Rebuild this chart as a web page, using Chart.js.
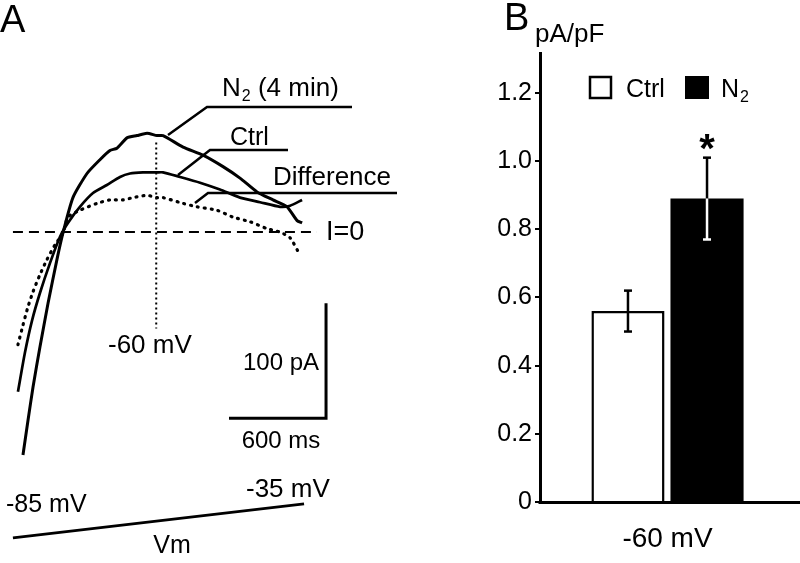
<!DOCTYPE html>
<html lang="en">
<head>
<meta charset="UTF-8">
<title>Ramp currents and current density</title>
<script src="https://cdn.jsdelivr.net/npm/chart.js@4.4.1/dist/chart.umd.min.js"></script>
<style>
  body { margin: 0; background: #fff; }
  #wrap { position: relative; width: 800px; height: 563px; }
  #wrap canvas { position: absolute; top: 0; }
  #panelA { left: 0; }
  #panelB { left: 480px; }
</style>
</head>
<body>
<div id="wrap">
  <canvas id="panelA" width="480" height="563"></canvas>
  <canvas id="panelB" width="320" height="563"></canvas>
</div>
<script>
// ---- panel A: ramp currents, time (ms) / current (pA) ----
const n2Time    = [62, 93, 124, 167, 217, 272, 309, 371, 458, 538, 600, 643, 705, 767, 829, 891, 928, 1052, 1175, 1299, 1404, 1509, 1608, 1695, 1757, 1788];
const n2Current = [-194, -164, -135, -100, -62, -24, -1, 30, 51, 63, 71, 73, 82, 84, 86, 84, 84, 74, 67, 57, 47, 35, 28, 22, 10, 8];

const ctrlTime    = [31, 74, 118, 167, 229, 291, 340, 414, 495, 581, 662, 724, 804, 891, 928, 1033, 1157, 1280, 1404, 1528, 1652, 1714, 1788];
const ctrlCurrent = [-139, -105, -77, -53, -27, -4, 8, 22, 34, 41, 48, 51, 52, 52, 52, 48, 43, 37, 30, 26, 22, 23, 28];

const diffTime    = [31, 62, 93, 124, 167, 210, 260, 309, 340, 414, 520, 600, 680, 742, 829, 891, 928, 1052, 1138, 1262, 1361, 1466, 1571, 1652, 1714, 1775];
const diffCurrent = [-98, -81, -65, -52, -37, -24, -11, -1, 13, 19, 25, 28, 28, 30, 32, 30, 30, 25, 22, 19, 13, 9, 3, 0, -5, -20];

// voltage ramp protocol (ms / mV)
const rampTime = [0, 1800];
const rampVm   = [-85, -35];

// ---- panel B: current density at -60 mV ----
const categories = ['-60 mV'];
const groups     = ['Ctrl', 'N₂'];
const meanValues = [0.56, 0.89];
const semValues  = [0.06, 0.12];
const yTicks     = [0, 0.2, 0.4, 0.6, 0.8, 1.0, 1.2];

const FONT = '"Liberation Sans", Arial, sans-serif';

function pairs(xs, ys) {
  return xs.map((v, i) => ({ x: v, y: ys[i] }));
}

function line(ctx, pts) {
  ctx.beginPath();
  ctx.moveTo(pts[0][0], pts[0][1]);
  for (let i = 1; i < pts.length; i++) ctx.lineTo(pts[i][0], pts[i][1]);
  ctx.stroke();
}

function text(ctx, str, x, y, size, align) {
  ctx.font = size + 'px ' + FONT;
  ctx.textAlign = align || 'left';
  ctx.textBaseline = 'alphabetic';
  ctx.fillText(str, x, y);
}

// "N" + subscript "2" + rest
function subText(ctx, x, y, size, rest) {
  ctx.font = size + 'px ' + FONT;
  ctx.textAlign = 'left';
  ctx.textBaseline = 'alphabetic';
  ctx.fillText('N', x, y);
  x += ctx.measureText('N').width + 1;
  ctx.font = Math.round(size * 0.62) + 'px ' + FONT;
  ctx.fillText('2', x, y + 5);
  x += ctx.measureText('2').width;
  if (rest) {
    ctx.font = size + 'px ' + FONT;
    ctx.fillText(rest, x, y);
  }
}

// annotations of panel A
const annotA = {
  id: 'annotA',
  afterDatasetsDraw(chart) {
    const ctx = chart.ctx;
    const sx = chart.scales.x, sy = chart.scales.y;
    ctx.save();
    ctx.strokeStyle = '#000';
    ctx.fillStyle = '#000';

    // I = 0 line
    ctx.lineWidth = 2;
    ctx.setLineDash([10, 6]);
    line(ctx, [[sx.getPixelForValue(0), sy.getPixelForValue(0)], [sx.getPixelForValue(1880), sy.getPixelForValue(0)]]);

    // -60 mV marker
    ctx.setLineDash([2, 3]);
    const tm = sx.getPixelForValue(886);
    line(ctx, [[tm, sy.getPixelForValue(78)], [tm, sy.getPixelForValue(-84)]]);
    ctx.setLineDash([]);

    // scale bars: 600 ms, 100 pA
    ctx.lineWidth = 3;
    const t0 = 1336, i0 = -162;
    line(ctx, [
      [sx.getPixelForValue(t0), sy.getPixelForValue(i0)],
      [sx.getPixelForValue(t0 + 600), sy.getPixelForValue(i0)],
      [sx.getPixelForValue(t0 + 600), sy.getPixelForValue(i0 + 100)]
    ]);

    // leader lines
    ctx.lineWidth = 2.5;
    line(ctx, [[168, 135], [207, 107], [352, 107]]);
    line(ctx, [[178, 175], [210, 150], [288, 150]]);
    line(ctx, [[195, 203], [208, 193], [397, 193]]);

    // labels
    text(ctx, 'A', 0, 32, 38);
    subText(ctx, 222, 96, 26, ' (4 min)');
    text(ctx, 'Ctrl', 230, 145, 25);
    text(ctx, 'Difference', 273, 185, 26);
    text(ctx, 'I=0', 326, 240, 27);
    text(ctx, '-60 mV', 108, 353, 26);
    text(ctx, '100 pA', 319, 370, 24, 'right');
    text(ctx, '600 ms', 281, 448, 24, 'center');
    text(ctx, '-85 mV', 6, 512, 25);
    text(ctx, '-35 mV', 246, 497, 26);
    text(ctx, 'Vm', 172, 553, 25, 'center');
    ctx.restore();
  }
};

new Chart(document.getElementById('panelA'), {
  type: 'scatter',
  data: {
    datasets: [
      { label: 'N2 (4 min)', data: pairs(n2Time, n2Current), showLine: true,
        borderColor: '#000', borderWidth: 3, pointRadius: 0, tension: 0.2 },
      { label: 'Ctrl', data: pairs(ctrlTime, ctrlCurrent), showLine: true,
        borderColor: '#000', borderWidth: 2.7, pointRadius: 0, tension: 0.2 },
      { label: 'Difference', data: pairs(diffTime, diffCurrent), showLine: true,
        borderColor: '#000', borderWidth: 3.2, borderDash: [1, 6], borderCapStyle: 'round',
        pointRadius: 0, tension: 0.2 },
      { label: 'Vm', data: pairs(rampTime, rampVm), showLine: true, yAxisID: 'yVm',
        borderColor: '#000', borderWidth: 2.6, pointRadius: 0 }
    ]
  },
  options: {
    responsive: false,
    animation: false,
    devicePixelRatio: 1,
    layout: { padding: 0 },
    plugins: { legend: { display: false }, tooltip: { enabled: false } },
    scales: {
      x: { type: 'linear', display: false, min: -80, max: 2888 },
      y: { type: 'linear', display: false, min: -288, max: 202 },
      yVm: { type: 'linear', display: false, min: -122, max: 706 }
    }
  },
  plugins: [annotA]
});

// error bars, legend and labels of panel B
const extrasB = {
  id: 'extrasB',
  afterDatasetsDraw(chart) {
    const ctx = chart.ctx;
    const sy = chart.scales.y;
    const area = chart.chartArea;
    ctx.save();
    ctx.lineWidth = 2.5;

    chart.data.datasets.forEach((ds, i) => {
      const bar = chart.getDatasetMeta(i).data[0];
      const m = ds.data[0], e = semValues[i];
      const yM = sy.getPixelForValue(m), yT = sy.getPixelForValue(m + e), yB = sy.getPixelForValue(m - e);
      const inner = ds.backgroundColor === '#000' ? '#fff' : '#000';
      ctx.strokeStyle = '#000';
      line(ctx, [[bar.x, yM], [bar.x, yT]]);
      line(ctx, [[bar.x - 4, yT], [bar.x + 4, yT]]);
      ctx.strokeStyle = inner;
      line(ctx, [[bar.x, yM], [bar.x, yB]]);
      line(ctx, [[bar.x - 4, yB], [bar.x + 4, yB]]);
    });

    // x axis line, running on to the edge of the figure
    ctx.strokeStyle = '#000';
    ctx.lineWidth = 3;
    line(ctx, [[area.left - 1.5, area.bottom + 0.5], [chart.width, area.bottom + 0.5]]);

    // significance star over N2
    const n2Bar = chart.getDatasetMeta(1).data[0];
    ctx.fillStyle = '#000';
    ctx.font = 'bold 40px ' + FONT;
    ctx.textAlign = 'center';
    ctx.textBaseline = 'alphabetic';
    const mt = ctx.measureText('*');
    const starTop = sy.getPixelForValue(meanValues[1] + semValues[1]) - 24;
    ctx.fillText('*', n2Bar.x, starTop + mt.actualBoundingBoxAscent);

    // legend
    ctx.lineWidth = 2.5;
    ctx.strokeStyle = '#000';
    ctx.fillStyle = '#fff';
    ctx.fillRect(110, 77, 21, 21);
    ctx.strokeRect(110, 77, 21, 21);
    ctx.fillStyle = '#000';
    ctx.fillRect(205, 76, 24, 23);
    text(ctx, groups[0], 146, 97, 25);
    subText(ctx, 241, 97, 25, '');

    // unit and panel letter
    text(ctx, 'pA/pF', 55, 42, 26);
    text(ctx, 'B', 24, 30, 38);
    ctx.restore();
  }
};

new Chart(document.getElementById('panelB'), {
  type: 'bar',
  data: {
    labels: categories,
    datasets: [
      { label: groups[0], data: [meanValues[0]], backgroundColor: '#fff',
        borderColor: '#000', borderWidth: 2.5 },
      { label: groups[1], data: [meanValues[1]], backgroundColor: '#000',
        borderColor: '#000', borderWidth: 0 }
    ]
  },
  options: {
    responsive: false,
    animation: false,
    devicePixelRatio: 1,
    layout: { padding: { top: 53, right: 5, bottom: 0, left: 0 } },
    plugins: { legend: { display: false }, tooltip: { enabled: false } },
    datasets: { bar: { categoryPercentage: 0.62, barPercentage: 0.925 } },
    scales: {
      x: {
        grid: { display: false, drawTicks: false },
        border: { display: false },
        ticks: { color: '#000', padding: 20, font: { family: FONT, size: 28 } },
        afterFit(s) { s.height = 61; }
      },
      y: {
        min: 0,
        max: 1.317,
        afterBuildTicks(s) { s.ticks = yTicks.map(v => ({ value: v })); },
        grid: { display: true, drawOnChartArea: false, drawTicks: true, tickLength: 5, color: '#000', lineWidth: 2 },
        border: { display: true, color: '#000', width: 3 },
        ticks: {
          color: '#000', padding: 3, font: { family: FONT, size: 25 },
          callback: v => (v === 0 ? '0' : v.toFixed(1))
        },
        afterFit(s) { s.width = 60; }
      }
    }
  },
  plugins: [extrasB]
});
</script>
</body>
</html>
